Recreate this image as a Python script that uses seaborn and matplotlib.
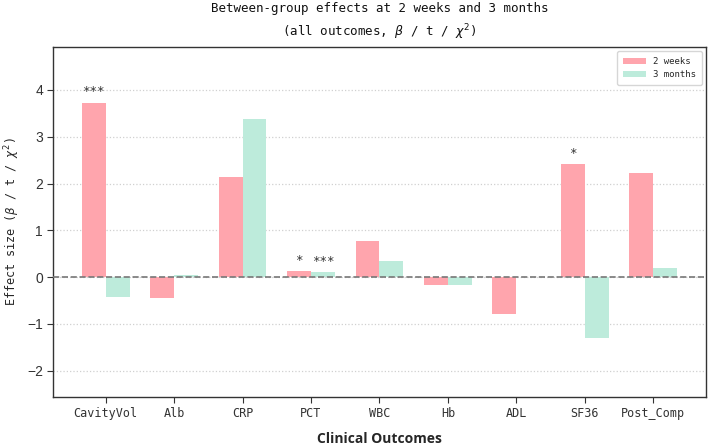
import matplotlib
matplotlib.use("Agg")
import matplotlib.pyplot as plt
import seaborn as sns
import pandas as pd
import numpy as np

outcomes = ["CavityVol", "Alb", "CRP", "PCT", "WBC", "Hb", "ADL", "SF36", "Post_Comp"]
weeks2 = [3.73, -0.44, 2.15, 0.13, 0.78, -0.16, -0.79, 2.41, 2.22]
months3 = [-0.42, 0.04, 3.39, 0.10, 0.34, -0.16, 0.0, -1.30, 0.19]
sig_2w = ["***", "", "", "*", "", "", "", "*", ""]
sig_3m = ["", "", "", "***", "", "", "", "", ""]
groups = ["2 weeks", "3 months"]
colors = ["#FFA5AD", "#BDEBDB"]

df = pd.DataFrame({
    "Outcome": outcomes * 2,
    "Value": weeks2 + months3,
    "Group": [groups[0]] * len(outcomes) + [groups[1]] * len(outcomes),
})

sns.set_style("white")
mono = ["DejaVu Sans Mono", "Noto Sans CJK SC"]

fig = plt.figure(figsize=(7.14, 4.47), dpi=100)
ax = fig.add_axes([0.074, 0.112, 0.915, 0.783])
sns.barplot(data=df, x="Outcome", y="Value", hue="Group", palette=colors,
            width=0.7, saturation=1, ax=ax, errorbar=None, linewidth=0)

ax.axhline(0, color="#777777", linestyle="--", linewidth=1.2, zorder=3)
ax.set_ylim(-2.56, 4.92)
ax.set_xlim(-0.77, len(outcomes) - 0.23)
ax.yaxis.grid(True, linestyle=":", color="#d0d0d0", linewidth=0.9)
ax.set_axisbelow(True)

off = 0.175
for i, (a, b) in enumerate(zip(sig_2w, sig_3m)):
    if a:
        y = weeks2[i] if weeks2[i] > 0 else 0
        ax.text(i - off, y + 0.09, a, ha="center", va="bottom", fontsize=9,
                color="#333333", family=mono)
    if b:
        y = months3[i] if months3[i] > 0 else 0
        ax.text(i + off, y + 0.09, b, ha="center", va="bottom", fontsize=9,
                color="#333333", family=mono)

ax.set_title("Between-group effects at 2 weeks and 3 months\n(all outcomes, $\\beta$ / t / $\\chi^2$)",
             fontsize=9, family=mono, pad=8, linespacing=1.5, color="#111111")
ax.set_xlabel("Clinical Outcomes", fontsize=10, fontweight="bold", family="Open Sans", labelpad=9)
ax.set_ylabel("Effect size ($\\beta$ / t / $\\chi^2$)", fontsize=8.5, family=mono)

ax.set_xticks(range(len(outcomes)))
ax.set_xticklabels(outcomes, family=mono, fontsize=8.5)
for lab in ax.get_yticklabels():
    lab.set_family("Liberation Sans")
    lab.set_fontsize(10)
ax.tick_params(axis="both", direction="out", length=4, width=0.8, colors="#333333",
               left=True, bottom=True, pad=3)
for s in ax.spines.values():
    s.set_color("#333333")
    s.set_linewidth(1.0)

leg = ax.legend(loc="upper right", prop={"family": mono, "size": 6.5}, frameon=True,
                handlelength=2.6, borderpad=0.6, labelspacing=0.5)
leg.get_frame().set_edgecolor("#cccccc")

fig.savefig("out.png", dpi=100)
